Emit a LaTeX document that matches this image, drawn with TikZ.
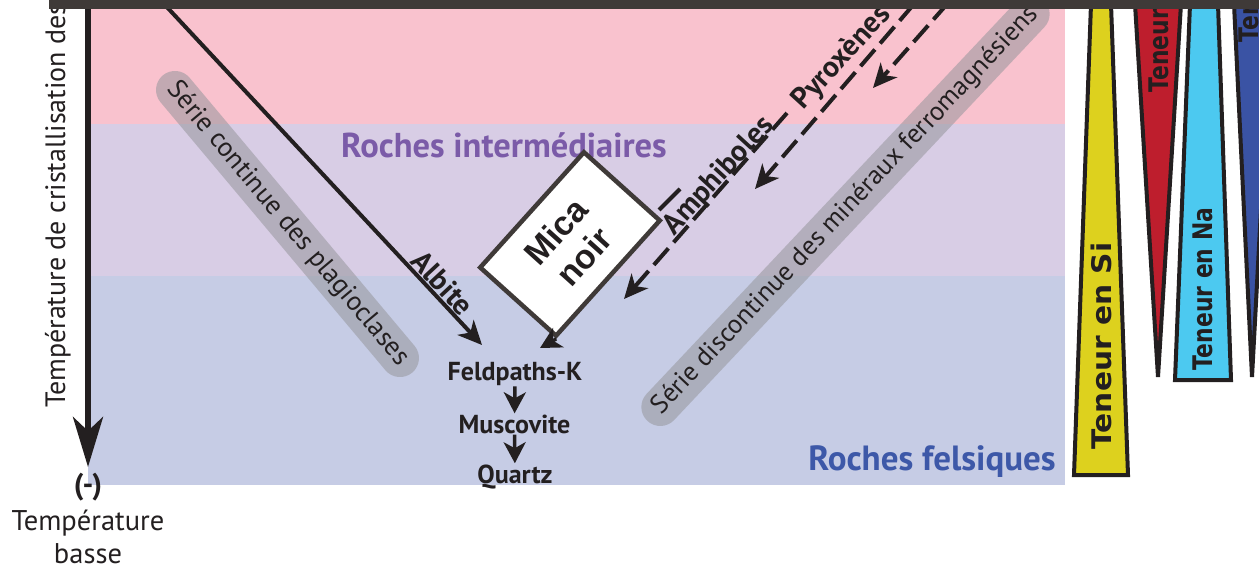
\documentclass[tikz,border=0pt]{standalone}
\usepackage{fontspec}
\setmainfont{PT Sans}
\newfontfamily\micafont{Liberation Sans}
\newfontfamily\tenfont{DejaVu Sans}
\usetikzlibrary{arrows.meta}
\definecolor{pinkband}{RGB}{249,194,206}
\definecolor{purpleband}{RGB}{216,205,229}
\definecolor{blueband}{RGB}{198,204,229}
\definecolor{bandgray}{RGB}{150,150,156}
\definecolor{darktext}{RGB}{35,31,32}
\definecolor{barcol}{RGB}{63,58,56}
\definecolor{interm}{RGB}{123,91,168}
\definecolor{felsic}{RGB}{61,88,168}
\definecolor{wyellow}{RGB}{221,209,30}
\definecolor{wred}{RGB}{190,30,45}
\definecolor{wcyan}{RGB}{76,201,240}
\definecolor{wblue}{RGB}{58,83,164}
\tikzset{
  grayband/.style={fill=bandgray, fill opacity=0.55, text opacity=1, text=darktext,
    rounded corners=19pt, minimum height=38pt, inner sep=0pt},
  plainlbl/.style={text=darktext, inner sep=0pt},
  boldlbl/.style={text=darktext, inner sep=0pt, font=\bfseries\fontsize{29.5}{32}\selectfont},
  solidarrow/.style={draw=darktext, line width=4pt, -{Stealth[length=24pt,width=22pt,inset=7pt]}},
  dasharrow/.style={solidarrow, dash pattern=on 22pt off 8pt},
  smallarrow/.style={draw=darktext, line width=3.5pt, -{Stealth[length=21pt,width=22pt,inset=6pt]}},
  mineral/.style={text=darktext, inner sep=1pt, font=\bfseries\fontsize{26}{28}\selectfont},
  wedge/.style={draw=darktext, line width=4pt, line join=miter},
  tenlbl/.style={text=darktext, inner sep=0pt, rotate=90, font=\tenfont\bfseries\fontsize{27}{30}\selectfont},
}
\begin{document}
\begin{tikzpicture}[x=1pt,y=-1pt]
\useasboundingbox (0,0) rectangle (1259,573);
\clip (0,0) rectangle (1259,573);
% background bands
\fill[pinkband] (88,9) rectangle (1065,124);
\fill[purpleband] (88,124) rectangle (1065,276);
\fill[blueband] (88,276) rectangle (1065,485);
% translucent series bands
\node[grayband, minimum width=388pt, rotate=-50, font=\fontsize{27}{30}\selectfont] (plag) at (287.5,224) {Série continue des plagioclases};
\node[grayband, minimum width=578pt, rotate=46.7, font=\fontsize{26.5}{30}\selectfont] (ferro) at (845.5,210.5) {Série discontinue des minéraux ferromagnésiens};
% temperature axis
\coordinate (axtop) at (88,5);
\coordinate (axbot) at (88,467);
\draw[draw=darktext, line width=6pt, -{Stealth[length=50pt,width=30pt,inset=14pt]}] (axtop) -- (axbot);
\node[plainlbl, rotate=90, anchor=base west, font=\fontsize{28}{30}\selectfont] (ylab) at (65,408) {Température de cristallisation des};
\node[plainlbl, anchor=base, font=\bfseries\fontsize{30}{32}\selectfont] (moins) at (88,494) {(-)};
\node[plainlbl, anchor=base, font=\fontsize{28.5}{30}\selectfont] (tb1) at (88,530) {Température};
\node[plainlbl, anchor=base, font=\fontsize{28.5}{30}\selectfont] (tb2) at (88,563) {basse};
% rock labels
\node[anchor=base, inner sep=0pt, text=interm, font=\bfseries\fontsize{34.5}{36}\selectfont] (rint) at (504,157) {Roches intermédiaires};
\node[anchor=base, inner sep=0pt, text=felsic, font=\bfseries\fontsize{35}{36}\selectfont] (rfel) at (932,470) {Roches felsiques};
% albite arrow
\coordinate (alS) at (165,5);
\coordinate (alT) at (482,345);
\draw[solidarrow] (alS) -- (alT);
\node[boldlbl, rotate=-47] (albite) at (443,283) {Albite};
% dashed arrows
\coordinate (Ls) at (787,113);
\coordinate (Lt) at (624,299);
\coordinate (Ms) at (914,4);
\coordinate (Mt) at (755,189);
\coordinate (Rs) at (948,3);
\coordinate (Rt) at (873,88);
\coordinate (d1a) at (680,189);
\coordinate (d1b) at (659,210);
\draw[dasharrow] (Ls) -- (Lt);
\draw[dasharrow] (Ms) -- (Mt);
\draw[dasharrow] (Rs) -- (Rt);
\draw[draw=darktext, line width=4pt] (d1a) -- (d1b);
\node[boldlbl, rotate=47.5] (amph) at (719,176) {Amphiboles};
\node[boldlbl, rotate=47.5] (pyro) at (842,58) {Pyroxènes};
% mica box
\node[draw=barcol, line width=4.5pt, fill=white, rotate=48, minimum width=155pt, minimum height=102pt,
  align=center, inner sep=0pt, text=darktext, font=\micafont\bfseries\fontsize{34}{38}\selectfont] (mica) at (570,244) {Mica\\noir};
\coordinate (mtip) at (540,348);
\draw[smallarrow] (mica.south west) -- (mtip);
% felsic minerals
\node[mineral, anchor=base] (fk) at (515,380) {Feldpaths-K};
\node[mineral, anchor=base] (musc) at (514.5,433) {Muscovite};
\node[mineral, anchor=base] (qtz) at (515,483) {Quartz};
\draw[smallarrow] (fk) -- (musc);
\draw[smallarrow] (musc) -- (qtz);
% content wedges
\draw[wedge, fill=wyellow] (1091,4) -- (1111,4) -- (1128,475) -- (1074,475) -- cycle;
\node[tenlbl] (si) at (1101,346) {\scalebox{1.1}[1]{Teneur en Si}};
\draw[wedge, fill=wred] (1135,4) -- (1181,4) -- (1158,377) -- cycle;
\node[tenlbl, anchor=west] (fe) at (1159,93) {\scalebox{0.81}[1]{Teneur}};
\draw[wedge, fill=wcyan] (1190,4) -- (1218,4) -- (1231,380) -- (1175,380) -- cycle;
\node[tenlbl] (na) at (1203,289) {\scalebox{0.81}[1]{Teneur en Na}};
\draw[wedge, fill=wblue] (1234,4) -- (1272,4) -- (1252,377) -- cycle;
\node[tenlbl, anchor=west] (bl) at (1249,43) {\scalebox{0.81}[1]{Ten}};
% top bar
\fill[barcol] (49,0) rectangle (1262,9);
\end{tikzpicture}
\end{document}
